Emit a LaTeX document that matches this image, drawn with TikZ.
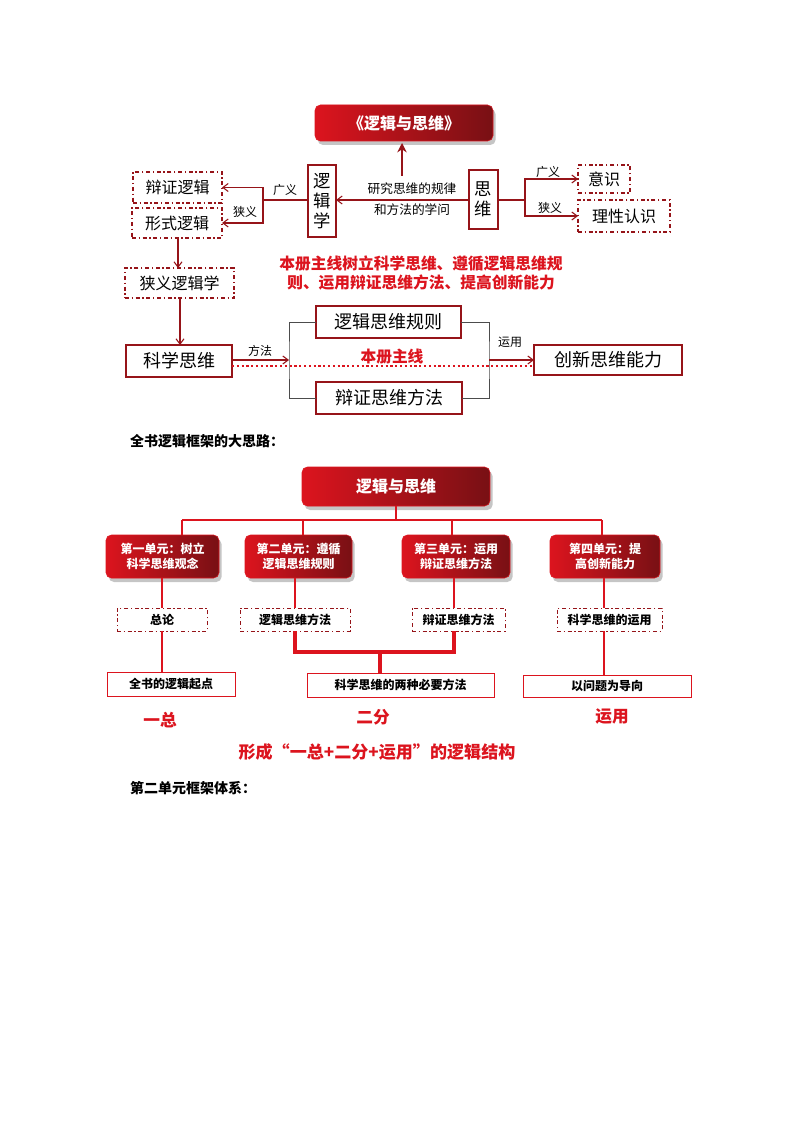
\documentclass[tikz,border=0pt]{standalone}
\usepackage{fontspec}
\setmainfont{Noto Sans CJK SC}
\usetikzlibrary{shadows,arrows.meta}
\definecolor{dred}{RGB}{150,20,25}
\definecolor{bred}{RGB}{220,20,30}
\newcommand\bx[7]{\node[#2,minimum width={(#5-#3)*0.75pt},minimum height={(#6-#4)*0.75pt}] (#1) at ({(#3+#5)/2},{(#4+#6)/2}) {#7};}
\begin{document}
\begin{tikzpicture}[x=0.75pt,y=-0.75pt,
 base/.style={inner sep=0pt,outer sep=0pt,align=center},
 redbox/.style={base,rounded corners=4pt,left color=bred,right color=dred!80!black,draw=bred,
   drop shadow={shadow xshift=2pt,shadow yshift=-3pt,opacity=.45},text=white,font=\bfseries},
 dbox/.style={base,draw=dred,thick,dash pattern=on 3pt off 2pt on 1pt off 2pt},
 sbox/.style={base,draw=dred,thick},
 ln/.style={dred,thick},
 arr/.style={ln,-{Straight Barb[length=4pt,width=6pt]}},
 lbl/.style={font=\fontsize{9}{10}\selectfont,inner sep=1pt},
 rl/.style={base,text=bred,font=\bfseries\fontsize{11.8}{14.5}\selectfont},
 thk/.style={bred,line width=2pt}]
\useasboundingbox (0,0) rectangle (794,1123);
\fill[white] (0,0) rectangle (794,1123);
% ---------- top diagram ----------
\bx{t}{redbox,font=\bfseries\fontsize{12}{14}\selectfont}{315}{105}{493}{141}{《逻辑与思维》}
\bx{lj}{sbox,font=\fontsize{13}{15}\selectfont}{308}{165}{336}{237}{逻\\辑\\学}
\bx{sw}{sbox,font=\fontsize{13}{15}\selectfont}{469}{170}{498}{229}{思\\维}
\coordinate (up) at (402,176);
\draw[dred,line width=2pt,-{Stealth[length=7pt,width=7pt]}] (up) -- (402,143);
\node[lbl,font=\fontsize{9.5}{11}\selectfont] (yj1) at (412,189) {研究思维的规律};
\node[lbl,font=\fontsize{9.5}{11}\selectfont] (yj2) at (412,210) {和方法的学问};
\draw[arr] (sw.west|-0,200) -- (lj.east|-0,200);
\bx{bz}{dbox,font=\fontsize{12}{14}\selectfont}{133}{172}{222}{203}{辩证逻辑}
\bx{xs}{dbox,font=\fontsize{12}{14}\selectfont}{132}{208}{222}{238}{形式逻辑}
\coordinate (lb) at (263,200);
\draw[ln] (lj.west|-0,200) -- (lb);
\draw[arr] (lb) |- (bz.east);
\draw[arr] (lb) |- (xs.east);
\node[lbl] (gy1) at (285,190) {广义};
\node[lbl] (xy1) at (245,212) {狭义};
\bx{ys}{dbox,font=\fontsize{12}{14}\selectfont}{578}{165}{630}{193}{意识}
\bx{lx}{dbox,font=\fontsize{12}{14}\selectfont}{578}{200}{670}{232}{理性认识}
\coordinate (rb) at (525,200);
\draw[ln] (sw.east|-0,200) -- (rb);
\draw[arr] (rb) |- (ys.west);
\draw[arr] (rb) |- (lx.west);
\node[lbl] (gy2) at (548,172) {广义};
\node[lbl] (xy2) at (550,208) {狭义};
\bx{xy}{dbox,font=\fontsize{12}{14}\selectfont}{125}{268}{234}{298}{狭义逻辑学}
\draw[arr] (xs.south-|178,0) -- (xy.north-|178,0);
\bx{kx}{sbox,font=\fontsize{13.5}{15}\selectfont}{126}{345}{232}{377}{科学思维}
\draw[arr] (xy.south-|180,0) -- (kx.north-|180,0);
\node[rl] (zx) at (421,273) {本册主线树立科学思维、遵循逻辑思维规\\则、运用辩证思维方法、提高创新能力};
\bx{lg}{sbox,font=\fontsize{13.5}{15}\selectfont}{316}{306}{461}{338}{逻辑思维规则}
\bx{bf}{sbox,font=\fontsize{13.5}{15}\selectfont}{316}{382}{462}{414}{辩证思维方法}
\bx{cx}{sbox,font=\fontsize{13.5}{15}\selectfont}{534}{345}{682}{375}{创新思维能力}
\coordinate (bl) at (289,360);
\coordinate (br) at (489,360);
\draw[ln,thin,black!70] (lg.west) -| (bl) |- (bf.west);
\draw[ln,thin,black!70] (lg.east) -| (br) |- (bf.east);
\draw[arr] (kx.east|-0,360) -- (bl);
\draw[arr] (br) -- (cx.west|-0,360);
\node[lbl] (ff) at (260,351) {方法};
\node[lbl] (yy) at (510,342) {运用};
\draw[bred,line width=1.6pt,dotted] (kx.east|-0,366) -- (cx.west|-0,366);
\node[rl] (bc) at (392,357) {本册主线};
\node[base,anchor=west,font=\bfseries\fontsize{10.5}{12}\selectfont] (h1) at (130,441) {全书逻辑框架的大思路：};
% ---------- second diagram ----------
\bx{t2}{redbox,font=\bfseries\fontsize{12}{14}\selectfont}{302}{467}{490}{506}{逻辑与思维}
\foreach \n/\a/\b/\s in {u1/106/219/第一单元：树立\\科学思维观念,u2/245/352/第二单元：遵循\\逻辑思维规则,u3/402/510/第三单元：运用\\辩证思维方法,u4/550/660/第四单元：提\\高创新能力}{
 \bx{\n}{redbox,font=\bfseries\fontsize{9}{11}\selectfont}{\a}{535}{\b}{578}{\s}}
\coordinate (h) at (396,520);
\draw[thk,line width=1.5pt] (t2.south-|h) -- (h);
\draw[thk,line width=1.5pt] (182,520) -- (602,520);
\foreach \n/\x in {u1/182,u2/303,u3/452,u4/602}\draw[thk,line width=1.5pt] (\x,520) -- (\n.north-|\x,0);
\foreach \n/\a/\b/\s in {d1/117/207/总论,d2/240/350/逻辑思维方法,d3/412/505/辩证思维方法,d4/557/662/科学思维的运用}{
 \bx{\n}{dbox,thin,font=\bfseries\fontsize{9}{11}\selectfont}{\a}{608}{\b}{631}{\s}}
\bx{q}{sbox,thin,draw=bred,font=\bfseries\fontsize{9}{11}\selectfont}{107}{672}{235}{696}{全书的逻辑起点}
\bx{k2}{sbox,thin,draw=bred,font=\bfseries\fontsize{9}{11}\selectfont}{307}{673}{494}{697}{科学思维的两种必要方法}
\bx{wt}{sbox,thin,draw=bred,font=\bfseries\fontsize{9}{11}\selectfont}{523}{675}{691}{697}{以问题为导向}
\draw[thk] (u1.south-|162,0) -- (d1.north-|162,0);
\draw[thk] (d1.south-|162,0) -- (q.north-|162,0);
\draw[thk] (u2.south-|295,0) -- (d2.north-|295,0);
\draw[thk] (u3.south-|454,0) -- (d3.north-|454,0);
\draw[thk,line width=2.5pt] (d2.south-|295,0) |- (380,652) -| (d3.south-|454,0);
\draw[thk,line width=2.5pt] (380,652) -- (k2.north-|380,0);
\draw[thk] (u4.south-|604,0) -- (d4.north-|604,0);
\draw[thk] (d4.south-|604,0) -- (wt.north-|604,0);
\node[rl,font=\bfseries\fontsize{12.5}{14}\selectfont] (yz) at (160,720) {一总};
\node[rl,font=\bfseries\fontsize{12.5}{14}\selectfont] (ef) at (373,717) {二分};
\node[rl,font=\bfseries\fontsize{12.5}{14}\selectfont] (yy2) at (612,717) {运用};
\node[rl,font=\bfseries\fontsize{12.8}{14}\selectfont] (xc) at (377,752) {形成“一总+二分+运用”的逻辑结构};
\node[base,anchor=west,font=\bfseries\fontsize{10.5}{12}\selectfont] (h2) at (130,788) {第二单元框架体系：};
\end{tikzpicture}
\end{document}
